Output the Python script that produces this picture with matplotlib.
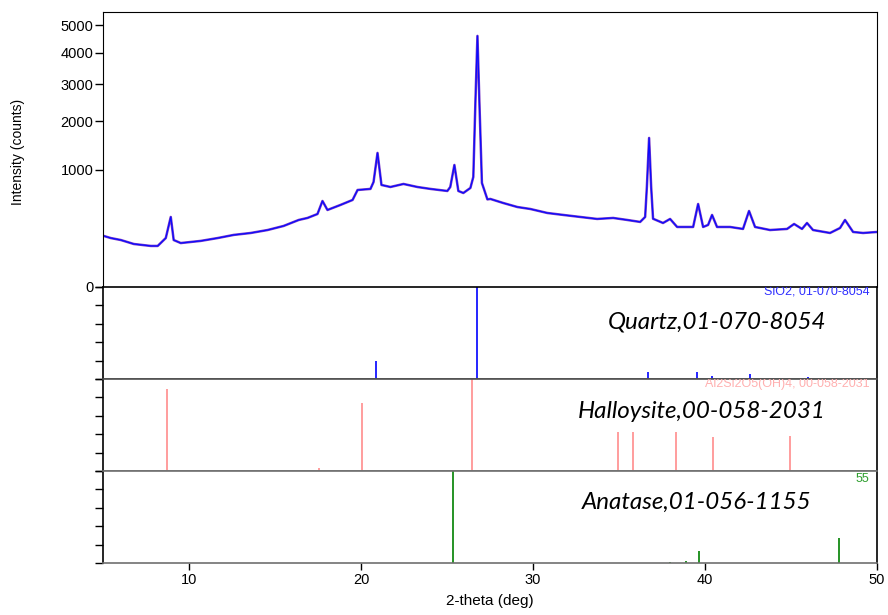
import numpy as np
import matplotlib
matplotlib.use("Agg")
import matplotlib.pyplot as plt

two_theta = [5.05, 5.45, 6.04, 6.79, 7.78, 8.18, 8.65, 8.94, 9.11, 9.52, 10.68, 11.67,
             12.60, 13.59, 14.57, 15.50, 16.38, 16.89, 17.47, 17.76, 18.05, 18.80, 19.51,
             19.80, 20.55, 20.73, 20.96, 21.19, 21.71, 22.47, 23.28, 24.04, 25.02, 25.19,
             25.43, 25.66, 25.95, 26.36, 26.53, 26.65, 26.77, 26.89, 27.03, 27.35, 27.52,
             28.27, 29.09, 29.85, 30.83, 31.76, 32.75, 33.73, 34.66, 35.48, 36.23, 36.52,
             36.62, 36.75, 36.87, 36.98, 37.56, 37.97, 38.38, 39.31, 39.60, 39.89, 40.18,
             40.41, 40.70, 41.46, 42.21, 42.56, 42.91, 43.78, 44.77, 45.18, 45.64, 45.93,
             46.28, 47.27, 47.85, 48.14, 48.61, 49.19, 50.0]
counts = [190, 175, 161, 135, 123, 123, 175, 358, 161, 141, 155, 175,
          198, 213, 237, 272, 328, 348, 389, 540, 433, 491, 553,
          687, 702, 805, 1312, 760, 730, 775, 730, 702, 673, 730,
          1087, 673, 645, 716, 884, 2473, 4602, 2400, 790, 560, 566,
          515, 467, 444, 400, 379, 358, 338, 348, 328, 309, 358,
          730, 1622, 730, 340, 299, 338, 263, 263, 503, 263, 281,
          379, 263, 263, 246, 422, 263, 237, 246, 290, 246, 299,
          237, 213, 254, 328, 221, 213, 221]

# reference cards (position, relative intensity %)
quartz_pos = [20.90, 26.77, 36.69, 39.53, 40.40, 42.61, 45.98]
quartz_int = [20, 100, 8, 8, 3, 5, 2]
halloy_pos = [8.70, 17.53, 20.03, 26.48, 34.96, 35.83, 38.33, 40.48, 44.93]
halloy_int = [89, 3, 74, 100, 42, 42, 42, 37, 38]
anatase_pos = [25.37, 37.97, 38.90, 39.66, 47.78]
anatase_int = [100, 1, 2, 13, 27]

ytick_vals = [0, 1000, 2000, 3000, 4000, 5000]
xtick_vals = [10, 20, 30, 40, 50]

plt.rcParams["font.family"] = ["Liberation Sans", "DejaVu Sans"]

W, H = 888, 615
fig = plt.figure(figsize=(W / 100, H / 100), dpi=100)


def fx(px):
    return px / W


def fy(py):
    return 1 - py / H


left, right = 103, 877
ax = fig.add_axes([fx(left), fy(287), fx(right - left), fy(12) - fy(287)])
ax.plot(two_theta, counts, color="#7a3cc8", lw=1.8, solid_joinstyle="round")
ax.plot(two_theta, counts, color="#0a0aff", lw=0.9, solid_joinstyle="round")
ax.set_yscale("function", functions=(lambda v: np.sqrt(np.clip(v, 0, None)), lambda v: v ** 2))
ax.set_ylim(0, 5520)
ax.set_xlim(5, 50)
ax.set_yticks(ytick_vals)
ax.set_yticklabels([str(v) for v in ytick_vals])
ax.minorticks_off()
ax.tick_params(axis="y", direction="out", length=6, width=1, labelsize=10.5, pad=1)
ax.tick_params(axis="x", bottom=False, labelbottom=False)
ax.spines["bottom"].set_visible(False)
fig.text(fx(18), fy(152), "Intensity (counts)", rotation=90, ha="center", va="center", fontsize=10)

panels = [
    (287, 379, quartz_pos, quartz_int, "#0000ff", "Quartz,01-070-8054",
     "SiO2, 01-070-8054", "#3030ff", 4),
    (379, 471, halloy_pos, halloy_int, "#ff8c8c", "Halloysite,00-058-2031",
     "Al2Si2O5(OH)4, 00-058-2031", "#ffb0b0", 5),
    (471, 563, anatase_pos, anatase_int, "#008000", "Anatase,01-056-1155",
     "55", "#2e9e2e", 8),
]
label_x = {0: 826, 1: 826, 2: 811}
label_y = {0: 322, 1: 412, 2: 502}
spine_col = ["black", "#505050", "#707070"]

for i, (top, bot, pos, inten, col, name, card, card_col, card_dy) in enumerate(panels):
    a = fig.add_axes([fx(left), fy(bot), fx(right - left), fy(top) - fy(bot)])
    a.vlines(pos, 0, inten, color=col, lw=1.2)
    a.set_xlim(5, 50)
    a.set_ylim(0, 100)
    a.set_yticks([0, 20, 40, 60, 80, 100])
    a.set_yticklabels([])
    a.tick_params(axis="y", direction="out", length=6, width=1)
    a.spines["top"].set_color(spine_col[i])
    a.spines["bottom"].set_color(spine_col[min(i + 1, 2)])
    for s in a.spines.values():
        s.set_linewidth(1.2)
    a.text(fx(label_x[i] - left) / fx(right - left), (bot - label_y[i]) / (bot - top), name,
           transform=a.transAxes, ha="right", va="center", fontsize=17.4,
           family=["Lato", "DejaVu Sans"], style="italic")
    a.text(0.99, 1.0 - card_dy / (bot - top), card, transform=a.transAxes, ha="right",
           va="center", fontsize=9, color=card_col, clip_on=True)
    if i < 2:
        a.tick_params(axis="x", bottom=False, labelbottom=False)
    else:
        a.set_xticks(xtick_vals)
        a.tick_params(axis="x", direction="out", length=5, width=1, labelsize=10.5, pad=2)
        a.set_xlabel("2-theta (deg)", fontsize=11, labelpad=5)

fig.savefig("out.png", dpi=100, facecolor="white")
